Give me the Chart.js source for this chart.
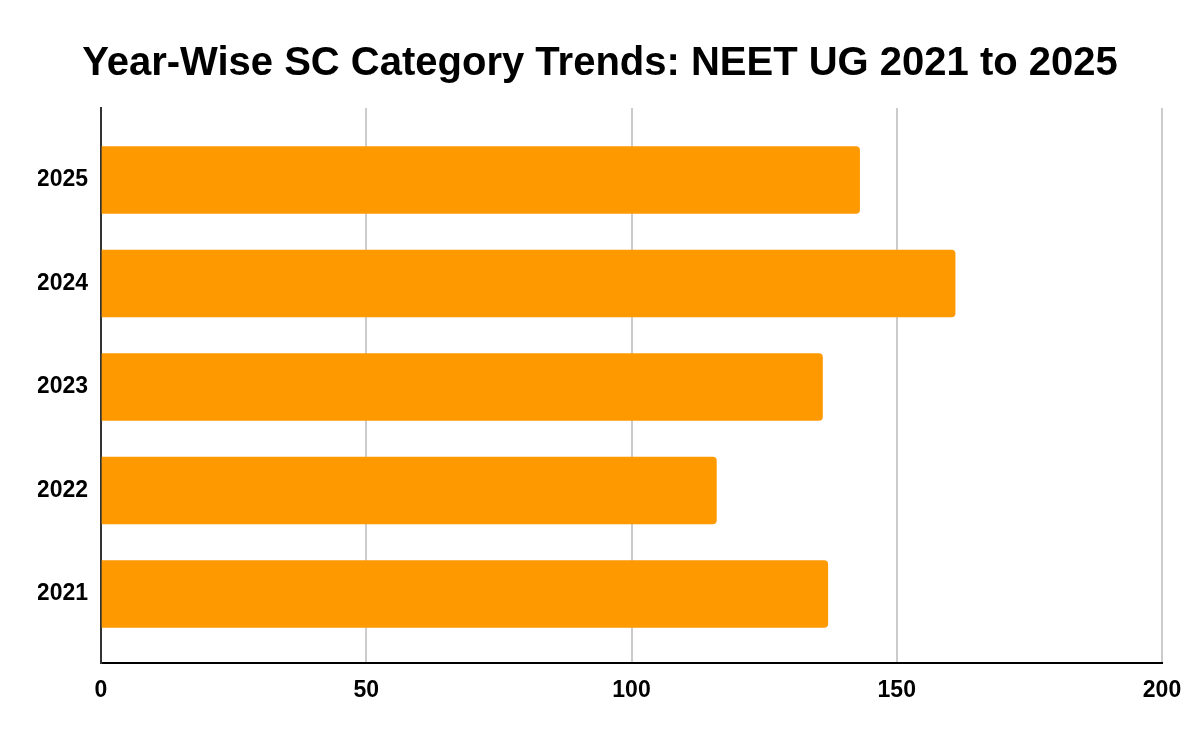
<!DOCTYPE html>
<html>
<head>
<meta charset="utf-8">
<script src="https://cdn.jsdelivr.net/npm/chart.js@4.4.1/dist/chart.umd.min.js"></script>
<style>
  html, body { margin: 0; padding: 0; background: #fff; }
  #wrap { width: 1200px; height: 742px; }
</style>
</head>
<body>
<div id="wrap"><canvas id="sc"></canvas></div>
<script>
// values (bottom to top)
const years = ['2021', '2022', '2023', '2024', '2025'];
const scValues = [137, 116, 136, 161, 143];
const xTicks = [0, 50, 100, 150, 200];

const FONT = '"Liberation Sans", Arial, sans-serif';

const points = years.map((yr, i) => ({ x: scValues[i], y: i }));

new Chart(document.getElementById('sc'), {
    type: 'bar',
    data: {
        datasets: [{
            label: 'SC',
            data: points,
            backgroundColor: '#FF9900',
            borderRadius: 4,
            barThickness: 67
        }]
    },
    options: {
        indexAxis: 'y',
        responsive: true,
        maintainAspectRatio: false,
        animation: false,
        devicePixelRatio: 1,
        layout: { padding: { left: 38, right: 38, top: 0, bottom: 0 } },
        plugins: {
            legend: { display: false },
            tooltip: { enabled: false },
            title: {
                display: true,
                text: 'Year-Wise SC Category Trends: NEET UG 2021 to 2025',
                color: '#000',
                font: { family: FONT, size: 40, weight: 'bold', lineHeight: 1.2 },
                padding: { top: 40, bottom: 20 }
            }
        },
        scales: {
            x: {
                type: 'linear',
                min: 0,
                max: 200,
                afterBuildTicks: s => { s.ticks = xTicks.map(v => ({ value: v })); },
                grid: {
                    color: ctx => ctx.tick && ctx.tick.value === 0 ? 'rgba(0,0,0,0)' : '#cccccc',
                    lineWidth: 2,
                    drawTicks: false
                },
                border: { display: true, color: '#000', width: 2 },
                ticks: {
                    color: '#000',
                    padding: 14,
                    font: { family: FONT, size: 23, weight: 'bold' }
                },
                afterFit: s => { s.height = 79; }
            },
            y: {
                type: 'linear',
                offset: false,
                min: -0.667,
                max: 4.696,
                afterBuildTicks: s => { s.ticks = years.map((yr, i) => ({ value: i })); },
                grid: { display: false, drawTicks: false },
                border: { display: true, color: '#333', width: 2 },
                ticks: {
                    color: '#000',
                    padding: 13,
                    font: { family: FONT, size: 23, weight: 'bold' },
                    callback: v => years[v]
                },
                afterFit: s => { s.width = 63; }
            }
        }
    }
});
</script>
</body>
</html>
